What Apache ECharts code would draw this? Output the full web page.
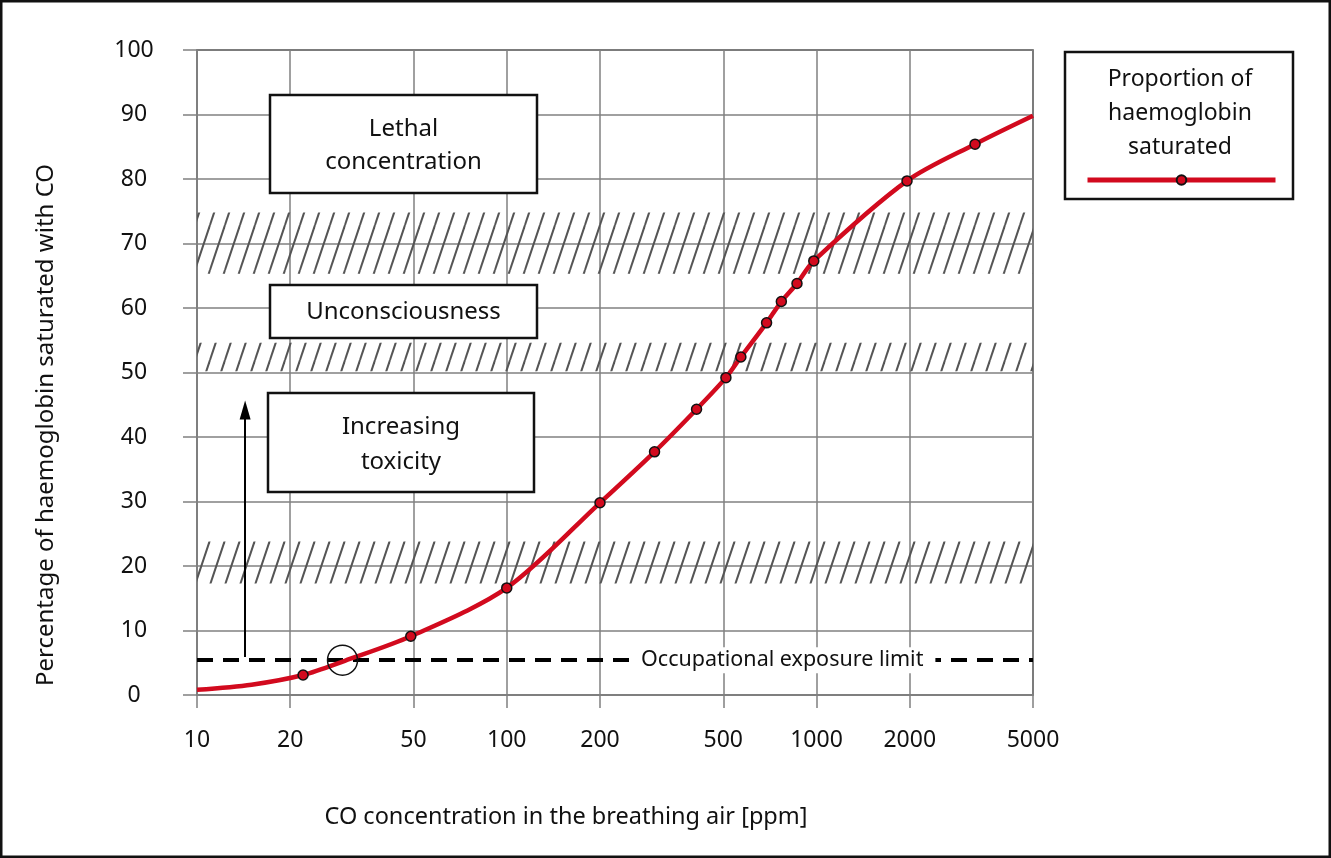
<!DOCTYPE html>
<html>
<head>
<meta charset="utf-8">
<script src="https://cdn.jsdelivr.net/npm/echarts@6/dist/echarts.min.js"></script>
<style>html,body{margin:0;padding:0;background:#fff}#c{width:1331px;height:858px}</style>
</head>
<body>
<div id="c"></div>
<script>
// ---- data ----
const xTicks = [10, 20, 50, 100, 200, 500, 1000, 2000, 5000];
const yTicks = [0, 10, 20, 30, 40, 50, 60, 70, 80, 90, 100];
// measured points (with markers)
const pointPpm = [22, 49, 100, 200, 300, 410, 510, 570, 690, 770, 865, 980, 1960, 3250];
const pointPct = [3.1, 9.1, 16.6, 29.8, 37.7, 44.3, 49.2, 52.4, 57.7, 61.0, 63.8, 67.3, 79.7, 85.4];
// curve points without markers
const guidePpm = [10, 15, 30, 5000];
const guidePct = [0.8, 1.6, 5.3, 89.8];
// hatched threshold bands [from, to] in %
const bandLow = [17.3, 50.2, 65.3];
const bandHigh = [23.8, 54.6, 74.8];
const oelPct = 5.4;           // occupational exposure limit
const oelPpm = 29.5;          // intersection with curve
const arrowPpm = 14.3, arrowFrom = 5.9, arrowTo = 44.2;
const oelLabelPpm = 775;

const seriesName = 'Proportion of haemoglobin saturated';
const FONT = '"Noto Sans", sans-serif';
const TXT = '#111';
const GRID = '#808080';

// merge curve points
const curve = [];
pointPpm.forEach((x, i) => curve.push({ value: [x, pointPct[i]], marker: true }));
guidePpm.forEach((x, i) => curve.push({ value: [x, guidePct[i]], marker: false }));
curve.sort((a, b) => a.value[0] - b.value[0]);
const curveData = curve.map(p => p.marker ? { value: p.value } : { value: p.value, symbol: 'none' });

// hatch pattern
function hatch() {
  const c = document.createElement('canvas');
  c.width = 15; c.height = 45;
  const g = c.getContext('2d');
  g.strokeStyle = '#555';
  g.lineWidth = 2;
  [-15, 0, 15].forEach(o => { g.beginPath(); g.moveTo(o, 45); g.lineTo(o + 15, 0); g.stroke(); });
  return c;
}
const pattern = { image: hatch(), repeat: 'repeat' };

const chart = echarts.init(document.getElementById('c'));
const box = (x, y, w, h) => ({ type: 'rect', z: 100, shape: { x, y, width: w, height: h }, style: { fill: '#fff', stroke: '#111', lineWidth: 2.5 } });
const txt = (x, y, text, size, lh, rot) => ({ type: 'text', z: 101, x, y, rotation: rot || 0, style: { text, x: 0, y: 0, align: 'center', verticalAlign: 'middle', font: size + 'px ' + FONT, fill: TXT, lineHeight: lh || size * 1.3 } });

chart.setOption({
  animation: false,
  grid: { left: 197, right: 298, top: 50, bottom: 163, show: true, borderColor: '#444', borderWidth: 1.5 },
  legend: {
    data: [seriesName], left: 1085, top: 174, padding: 0,
    itemWidth: 188, itemHeight: 12, formatter: () => '', textStyle: { fontSize: 1 },
    lineStyle: { width: 5 }
  },
  xAxis: {
    type: 'log', logBase: 10, min: 10, max: 5000,
    axisLine: { show: true, lineStyle: { color: GRID, width: 1.5 } },
    axisTick: { show: true, length: 13, customValues: xTicks, lineStyle: { color: GRID, width: 1.5 } },
    axisLabel: { customValues: xTicks, margin: 34, fontSize: 23, fontFamily: FONT, color: TXT, formatter: v => String(Math.round(v)) },
    splitLine: { show: true, lineStyle: { color: GRID, width: 1.5 } },
    minorTick: { show: false }, minorSplitLine: { show: false }
  },
  yAxis: {
    type: 'value', min: 0, max: 100, interval: 10,
    axisLine: { show: true, lineStyle: { color: GRID, width: 1.5 } },
    axisTick: { show: true, length: 14, lineStyle: { color: GRID, width: 1.5 } },
    axisLabel: { margin: 63, align: 'center', fontSize: 23, fontFamily: FONT, color: TXT },
    splitLine: { show: true, lineStyle: { color: GRID, width: 1.5 } }
  },
  series: [
    {
      name: 'bands', type: 'line', z: 1, data: [[10, 0]], symbol: 'none', lineStyle: { opacity: 0 }, silent: true,
      markArea: {
        silent: true,
        itemStyle: { color: pattern },
        data: bandLow.map((lo, i) => [{ yAxis: lo }, { yAxis: bandHigh[i] }])
      }
    },
    {
      name: 'oel', type: 'line', z: 3, data: [[10, oelPct]], symbol: 'none', lineStyle: { opacity: 0 }, silent: true,
      markLine: {
        silent: true, symbol: 'none', label: { show: false },
        data: [
          [{ coord: [10, oelPct], lineStyle: { color: '#000', width: 4, type: [16, 10] } }, { coord: [5000, oelPct] }],
          [{ coord: [arrowPpm, arrowFrom], symbol: 'none', lineStyle: { color: '#000', width: 2, type: 'solid' } },
           { coord: [arrowPpm, arrowTo], symbol: 'triangle', symbolSize: [11, 19] }]
        ]
      }
    },
    {
      name: seriesName, type: 'line', z: 5, data: curveData, smooth: 0.3,
      symbol: 'circle', symbolSize: 10, showAllSymbol: true,
      lineStyle: { color: '#d20a1e', width: 4.5 },
      itemStyle: { color: '#d20a1e', borderColor: '#111', borderWidth: 1.5 }
    },
    {
      name: 'marker', type: 'scatter', z: 6, data: [[oelPpm, oelPct]], symbol: 'circle', symbolSize: 30,
      itemStyle: { color: 'rgba(0,0,0,0)', borderColor: '#111', borderWidth: 1.5, opacity: 1 }, silent: true
    },
    {
      name: 'oelLabel', type: 'scatter', z: 7, data: [[oelLabelPpm, oelPct]], symbolSize: 0, silent: true,
      itemStyle: { opacity: 1 },
      label: { show: true, position: 'inside', formatter: 'Occupational exposure limit', fontSize: 21.5, fontFamily: FONT, color: TXT, backgroundColor: '#fff', padding: [2, 12] }
    }
  ],
  graphic: [
    { type: 'rect', z: 90, shape: { x: 1.25, y: 1.25, width: 1328.5, height: 855.5 }, style: { fill: 'none', stroke: '#111', lineWidth: 2.5 } },
    box(270, 95, 267, 98), txt(403.5, 145.5, 'Lethal\nconcentration', 24, 33),
    box(270, 285, 267, 53), txt(403.5, 312, 'Unconsciousness', 24),
    box(268, 393, 266, 99), txt(401, 444.5, 'Increasing\ntoxicity', 24, 35),
    { type: 'rect', z: 80, shape: { x: 1065, y: 52, width: 228, height: 147 }, style: { fill: 'none', stroke: '#111', lineWidth: 2.5 } },
    txt(1180, 113, 'Proportion of\nhaemoglobin\nsaturated', 23, 34),
    txt(46, 425, 'Percentage of haemoglobin saturated with CO', 24, 28, Math.PI / 2),
    txt(566, 817, 'CO concentration in the breathing air [ppm]', 23.5)
  ]
});
</script>
</body>
</html>
